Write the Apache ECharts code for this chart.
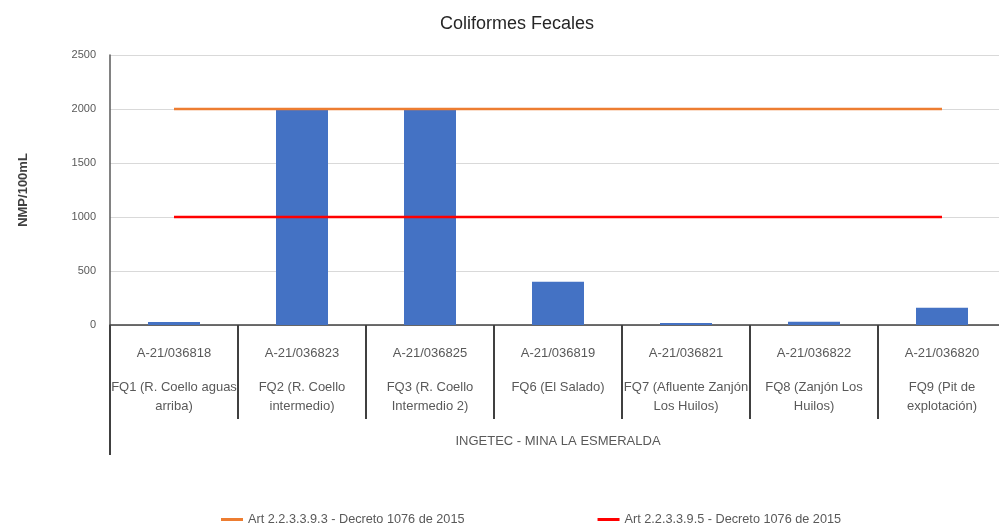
<!DOCTYPE html>
<html>
<head>
<meta charset="utf-8">
<script src="https://cdn.jsdelivr.net/npm/echarts@6/dist/echarts.min.js"></script>
<style>
  html, body { margin: 0; padding: 0; background: #fff; overflow: hidden; }
  /* the plot runs a few pixels past the right edge of the picture, as in the reference */
  #chart { width: 1006px; height: 526px; }
</style>
</head>
<body>
<div id="chart"></div>
<script>
// data
const sampleCodes = ['A-21/036818', 'A-21/036823', 'A-21/036825', 'A-21/036819', 'A-21/036821', 'A-21/036822', 'A-21/036820'];
const sampleNames = [
  'FQ1 (R. Coello aguas\narriba)',
  'FQ2 (R. Coello\nintermedio)',
  'FQ3 (R. Coello\nIntermedio 2)',
  'FQ6 (El Salado)',
  'FQ7 (Afluente Zanjón\nLos Huilos)',
  'FQ8 (Zanjón Los\nHuilos)',
  'FQ9 (Pit de\nexplotación)'
];
const groupLabel = ['INGETEC - MINA LA ESMERALDA'];
const coliformes = [28, 2000, 2000, 400, 18, 30, 160];
const limite9_3 = [2000, 2000, 2000, 2000, 2000, 2000, 2000];
const limite9_5 = [1000, 1000, 1000, 1000, 1000, 1000, 1000];
const yTicks = [0, 500, 1000, 1500, 2000, 2500];

const font = "'Liberation Sans Narrow', 'Liberation Sans', Arial, sans-serif";
const categories = sampleCodes.map((c, i) => c + '\n' + sampleNames[i]);

const chart = echarts.init(document.getElementById('chart'));
chart.setOption({
  animation: false,
  backgroundColor: '#fff',
  title: {
    text: 'Coliformes Fecales',
    left: 435,
    top: 10,
    textStyle: { fontFamily: font, fontSize: 18, fontWeight: 'normal', color: '#262626' }
  },
  legend: {
    top: 508,
    left: 216,
    itemGap: 133,
    itemWidth: 22,
    itemHeight: 3,
    icon: 'rect',
    textStyle: { fontFamily: font, fontSize: 12.7, color: '#595959' },
    data: ['Art 2.2.3.3.9.3 - Decreto 1076 de 2015', 'Art 2.2.3.3.9.5 - Decreto 1076 de 2015']
  },
  grid: { left: 110, top: 55, right: 0, height: 270 },
  xAxis: [{
    type: 'category',
    data: categories,
    position: 'bottom',
    axisLine: { show: true, lineStyle: { color: '#404040', width: 1.5 } },
    axisTick: { show: true, length: 94, lineStyle: { color: '#404040', width: 2 } },
    axisLabel: {
      interval: 0,
      margin: 37,
      formatter: function (v) {
        const i = v.indexOf('\n');
        return '{a|' + v.slice(0, i) + '}\n{b|' + v.slice(i + 1).split('\n').join('}\n{b|') + '}';
      },
      rich: {
        a: { fontFamily: font, fontSize: 13, color: '#595959', lineHeight: 16, padding: [0, 0, 34, 0] },
        b: { fontFamily: font, fontSize: 13, color: '#595959', lineHeight: 19 }
      }
    }
  }, {
    type: 'category',
    data: groupLabel,
    position: 'bottom',
    offset: 0,
    axisLine: { show: false },
    axisTick: { show: true, length: 130, lineStyle: { color: '#404040', width: 2 } },
    axisLabel: { margin: 110, fontFamily: font, fontSize: 13, color: '#595959' }
  }],
  yAxis: {
    type: 'value',
    min: yTicks[0],
    max: yTicks[yTicks.length - 1],
    interval: 500,
    name: 'NMP/100mL',
    nameLocation: 'middle',
    nameGap: 80,
    nameTextStyle: { fontFamily: font, fontSize: 13, fontWeight: 'bold', color: '#404040' },
    axisLine: { show: true, lineStyle: { color: '#595959', width: 1.5 } },
    axisTick: { show: false },
    axisLabel: { fontFamily: font, fontSize: 11, color: '#595959', margin: 14, formatter: v => String(v) },
    splitLine: { lineStyle: { color: '#d9d9d9' } }
  },
  series: [{
    name: 'Coliformes Fecales',
    type: 'bar',
    data: coliformes,
    barWidth: 52,
    itemStyle: { color: '#4472C4' }
  }, {
    name: 'Art 2.2.3.3.9.3 - Decreto 1076 de 2015',
    type: 'line',
    data: limite9_3,
    symbol: 'none',
    lineStyle: { color: '#ED7D31', width: 2.5 },
    itemStyle: { color: '#ED7D31' }
  }, {
    name: 'Art 2.2.3.3.9.5 - Decreto 1076 de 2015',
    type: 'line',
    data: limite9_5,
    symbol: 'none',
    lineStyle: { color: '#FF0000', width: 2.5 },
    itemStyle: { color: '#FF0000' }
  }]
});
</script>
</body>
</html>
